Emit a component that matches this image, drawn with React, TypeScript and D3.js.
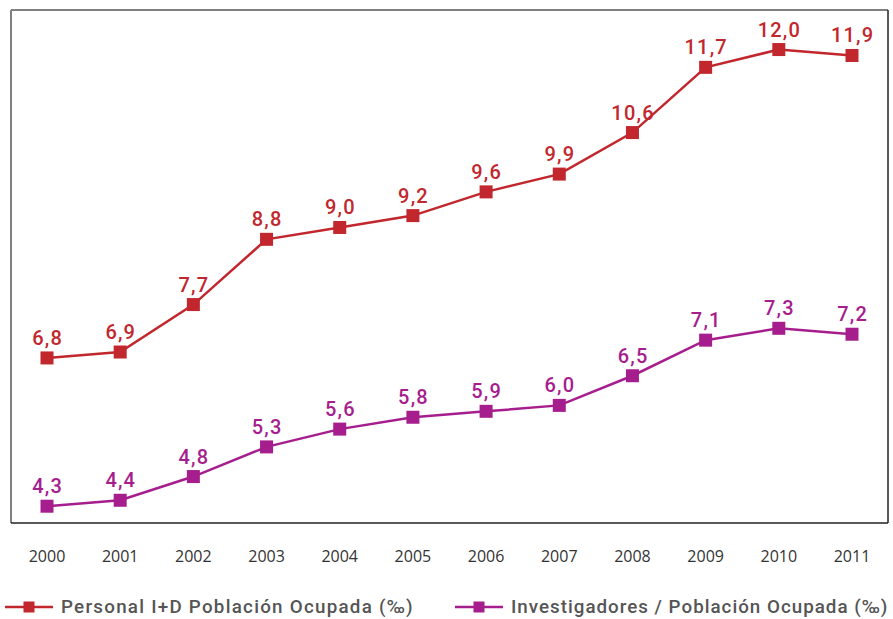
import React from "react";
import * as d3 from "d3";

const years = ["2000","2001","2002","2003","2004","2005","2006","2007","2008","2009","2010","2011"];
const personal = [6.8, 6.9, 7.7, 8.8, 9.0, 9.2, 9.6, 9.9, 10.6, 11.7, 12.0, 11.9];
const investigadores = [4.3, 4.4, 4.8, 5.3, 5.6, 5.8, 5.9, 6.0, 6.5, 7.1, 7.3, 7.2];
const seriesNames = ["Personal I+D Población Ocupada (‰)", "Investigadores / Población Ocupada (‰)"];
const colors = ["#c1272d", "#a61e8d"];

export default function App() {
  const W = 893, H = 619;
  const frame = { l: 11, t: 10, r: 888, b: 523 };
  const x = d3.scalePoint<string>().domain(years).range([47, 852]);
  const y = d3.scaleLinear().domain([4.0, 12.65]).range([frame.b + 1, frame.t + 1]);
  const line = d3.line<number>().x((_, i) => x(years[i])!).y(d => y(d));
  const all = [personal, investigadores];
  const labelFont = "Roboto, 'DejaVu Sans Condensed', sans-serif";
  const legendSpacing = [1.25, 1.0];
  return (
    <svg width={W} height={H} style={{ position: "absolute", left: 0, top: 0, background: "#fff" }}>
      <line x1={frame.l} y1={frame.t} x2={frame.r} y2={frame.t} stroke="#808080" strokeWidth={2} />
      <line x1={frame.l} y1={frame.t} x2={frame.l} y2={frame.b} stroke="#808080" strokeWidth={2} />
      <line x1={frame.r} y1={frame.t} x2={frame.r} y2={frame.b} stroke="#222" strokeWidth={1.5} />
      <line x1={frame.l} y1={frame.b} x2={frame.r} y2={frame.b} stroke="#222" strokeWidth={1.5} />
      {all.map((s, si) => (
        <g key={si}>
          <path d={line(s)!} fill="none" stroke={colors[si]} strokeWidth={2.5} />
          {s.map((v, i) => (
            <g key={i}>
              <rect x={x(years[i])! - 6.5} y={y(v) - 6.5} width={13} height={13} fill={colors[si]} />
              <text x={x(years[i])! + 0.6} y={y(v) - 13} textAnchor="middle" fontFamily={labelFont} fontWeight={500}
                fontSize={20} letterSpacing={1.2} fill={colors[si]}>{v.toFixed(1).replace(".", ",")}</text>
            </g>
          ))}
        </g>
      ))}
      {years.map(yr => (
        <text key={yr} x={x(yr)!} y={562} textAnchor="middle" fontFamily="'Open Sans', sans-serif" fontSize={16} fill="#333">{yr}</text>
      ))}
      {[0, 1].map(i => {
        const x0 = i === 0 ? 5 : 455;
        return (
          <g key={i}>
            <line x1={x0} x2={x0 + 48} y1={607} y2={607} stroke={colors[i]} strokeWidth={2.5} />
            <rect x={x0 + 24 - 5.5} y={607 - 5.5} width={11} height={11} fill={colors[i]} />
            <text x={x0 + 56} y={613} fontFamily={labelFont} fontWeight={500} fontSize={18.8} letterSpacing={legendSpacing[i]} fill="#555">{seriesNames[i]}</text>
          </g>
        );
      })}
    </svg>
  );
}
